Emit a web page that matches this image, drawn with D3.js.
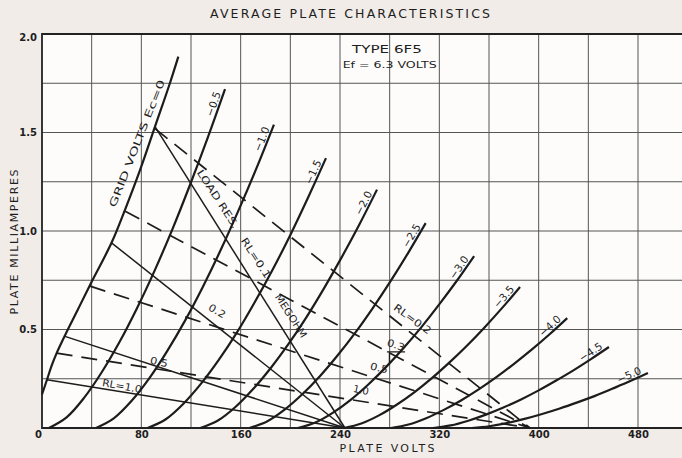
<!DOCTYPE html>
<html><head><meta charset="utf-8">
<script src="https://cdn.jsdelivr.net/npm/d3@7"></script>
<style>
html,body{margin:0;padding:0;background:#f1ece8;}
svg{display:block;}
text{font-family:"DejaVu Sans",sans-serif;fill:#1e1e1e;}
</style></head><body>
<svg id="c" width="682" height="458"></svg>
<script>
// ---- data ----
const gridBiasLabels = ["0","\u22120.5","\u22121.0","\u22121.5","\u22122.0","\u22122.5","\u22123.0","\u22123.5","\u22124.0","\u22124.5","\u22125.0"];
const curveVolts = [
  [0,4,8,11.8,18.5,28,38.7,56,67,79,91,103,109.8],
  [5.6,19.8,34,48.1,62.3,76.5,90.7,104.9,119,133.2,147.4],
  [43.5,57.8,72.2,86.5,100.8,115.2,129.5,143.8,158.1,172.5,186.8],
  [85,99.4,113.7,128.1,142.5,156.9,171.2,185.6,200,214.3,228.7],
  [127.5,141.7,156,170.2,184.4,198.7,212.9,227.1,241.3,255.6,269.8],
  [167,181.2,195.4,209.6,223.8,238,252.2,266.4,280.6,294.8,309],
  [206,220.2,234.4,248.6,262.8,277,291.2,305.4,319.6,333.8,348],
  [243,257.2,271.4,285.6,299.8,314,328.2,342.4,356.6,370.8,385],
  [281,295.2,309.4,323.6,337.8,352,366.2,380.4,394.6,408.8,423],
  [315,329.2,343.3,357.5,371.6,385.8,400,414.1,428.3,442.4,456.6],
  [346,360.2,374.4,388.6,402.8,417,431.2,445.4,459.6,473.8,488]
];
const curveMilliamps = [
  [0.17,0.245,0.32,0.38,0.47,0.59,0.726,0.94,1.11,1.31,1.53,1.75,1.885],
  [0,0.054,0.154,0.283,0.435,0.608,0.799,1.007,1.231,1.469,1.72],
  [0,0.049,0.138,0.253,0.390,0.545,0.716,0.902,1.102,1.315,1.54],
  [0,0.043,0.122,0.225,0.347,0.484,0.637,0.802,0.980,1.170,1.37],
  [0,0.038,0.108,0.199,0.306,0.428,0.562,0.709,0.866,1.033,1.21],
  [0,0.033,0.093,0.171,0.263,0.368,0.483,0.609,0.744,0.888,1.04],
  [0,0.028,0.078,0.143,0.221,0.309,0.406,0.511,0.625,0.745,0.873],
  [0,0.023,0.064,0.118,0.181,0.253,0.333,0.419,0.512,0.611,0.716],
  [0,0.018,0.050,0.092,0.141,0.197,0.259,0.327,0.399,0.476,0.558],
  [0,0.013,0.037,0.068,0.104,0.145,0.191,0.241,0.294,0.351,0.411],
  [0,0.009,0.025,0.046,0.071,0.099,0.130,0.163,0.200,0.238,0.279]
];
// load lines: megohms, start point on Ec=0 curve, supply voltage (end at 0 mA)
const loadRes      = [0.1, 0.2, 0.5, 1.0, 0.2, 0.3, 0.5, 1.0];
const loadStartV   = [91, 56, 18.5, 4, 91, 67, 38.7, 11.8];
const loadStartI   = [1.53, 0.94, 0.465, 0.245, 1.52, 1.10, 0.72, 0.38];
const loadSupplyV  = [244, 244, 244, 244, 393, 393, 393, 393];
const loadDashed   = [false,false,false,false,true,true,true,true];
const xTicks = [0,80,160,240,320,400,480];
const yTicks = [0.5,1.0,1.5,2.0];

// ---- chart ----
const W=682,H=458;
const x=d3.scaleLinear().domain([0,480]).range([42,638]);
const y=d3.scaleLinear().domain([0,2]).range([428,34]);
const svg=d3.select('#c');
const ink='#1c1c1c';

svg.append('rect').attr('x',x(0)).attr('y',y(2)).attr('width',W-x(0)).attr('height',y(0)-y(2)).attr('fill','#fdfcfb');

const grid=svg.append('g');
grid.selectAll('.vg').data(d3.range(40,530,40).filter(v=>x(v)<W)).join('line')
  .attr('x1',d=>x(d)).attr('x2',d=>x(d)).attr('y1',y(2)).attr('y2',y(0))
  .attr('stroke','#555').attr('stroke-width',1);
grid.selectAll('.hg').data(d3.range(0.25,2,0.25)).join('line')
  .attr('x1',x(0)).attr('x2',W).attr('y1',d=>y(d)).attr('y2',d=>y(d))
  .attr('stroke','#555').attr('stroke-width',1);

svg.append('path').attr('d',`M${W},${y(2)}H${x(0)}V${y(0)}H${W}`)
  .attr('fill','none').attr('stroke','#222').attr('stroke-width',1.8);

// axes
const xa=svg.append('g').attr('transform',`translate(0,${y(0)})`)
  .call(d3.axisBottom(x).tickValues(xTicks).tickSize(0).tickPadding(3).tickFormat(d3.format('d')));
xa.select('.domain').remove();
xa.selectAll('text').style('font-size','10px').style('font-weight','bold').attr('fill','#222')
  .attr('dx',d=>d===0?-4:0);
const ya=svg.append('g').attr('transform',`translate(${x(0)},0)`)
  .call(d3.axisLeft(y).tickValues(yTicks).tickSize(0).tickPadding(5).tickFormat(d3.format('.1f')));
ya.select('.domain').remove();
ya.selectAll('text').style('font-size','10px').style('font-weight','bold').attr('fill','#222')
  .attr('dy',d=>d===2?'0.6em':'0.32em');

// load lines
const lg=svg.append('g');
loadRes.forEach((r,i)=>{
  lg.append('line')
    .attr('x1',x(loadStartV[i])).attr('y1',y(loadStartI[i]))
    .attr('x2',x(loadSupplyV[i])).attr('y2',y(0))
    .attr('stroke',ink).attr('stroke-width',loadDashed[i]?1.7:1.5)
    .attr('stroke-dasharray',loadDashed[i]?'16,9':null);
});

// plate curves
const line=d3.line().x(d=>x(d[0])).y(d=>y(d[1])).curve(d3.curveCatmullRom.alpha(0.5));
const cg=svg.append('g');
curveVolts.forEach((vs,i)=>{
  const pts=vs.map((v,j)=>[v,curveMilliamps[i][j]]);
  cg.append('path').attr('d',line(pts)).attr('fill','none').attr('stroke',ink).attr('stroke-width',2.2);
  if(i>0){
    const n=pts.length;
    const p1=[x(pts[n-1][0]),y(pts[n-1][1])], p0=[x(pts[n-2][0]),y(pts[n-2][1])];
    const dx=p1[0]-p0[0], dy=p1[1]-p0[1], L=Math.hypot(dx,dy);
    const tx=dx/L, ty=dy/L, nx=ty, ny=-tx;
    const cx=p1[0]-18*tx+6*nx, cy=p1[1]-18*ty+6*ny;
    const ang=Math.atan2(dy,dx)*180/Math.PI;
    svg.append('text').attr('transform',`translate(${cx},${cy}) rotate(${ang})`)
      .attr('text-anchor','middle').attr('dy','0.35em').style('font-size','10.5px')
      .text(gridBiasLabels[i]);
  }
});

// annotations
function note(t,v,ma,rot,size,len){
  const el=svg.append('text').attr('transform',`translate(${x(v)},${y(ma)}) rotate(${rot})`)
    .attr('text-anchor','middle').attr('dy','0.35em').style('font-size',(size||10)+'px').text(t);
  if(len) el.attr('textLength',len).attr('lengthAdjust','spacingAndGlyphs');
  return el;
}
note('GRID VOLTS  E\u1D04=0',76.5,1.444,-68.5,10,136);
note('LOAD RES.',141.7,1.162,57,10,68);
note('RL=0.1',172.3,0.863,57,10,46);
note('MEGOHM',200.5,0.569,57,10,50);
note('RL=0.2',298.4,0.553,36,10,44);
note('0.3',285,0.421,18,10,18);
note('0.5',271.4,0.305,14,10,18);
note('1.0',256.9,0.193,12,10,16);
note('0.2',141,0.594,30,10,18);
note('0.5',94.2,0.335,12,10,18);
note('RL=1.0',64.4,0.213,10,10,40);
note('TYPE 6F5',277.8,1.924,0,10.5,70);
note('Ef = 6.3 VOLTS',280,1.843,0,9.5,94);
// underline mark under "0.3"
svg.append('path')
  .attr('d',`M${x(277.8)},${y(0.386)}H${x(292.4)}M${x(279.8)},${y(0.386)}V${y(0.33)}`)
  .attr('stroke',ink).attr('stroke-width',1.3).attr('fill','none');

// titles
svg.append('text').attr('x',350).attr('y',18).attr('text-anchor','middle')
  .style('font-size','12.5px').attr('textLength',280).attr('lengthAdjust','spacing')
  .text('AVERAGE PLATE CHARACTERISTICS');
svg.append('text').attr('x',387).attr('y',452).attr('text-anchor','middle')
  .style('font-size','11px').attr('textLength',95).attr('lengthAdjust','spacing')
  .text('PLATE VOLTS');
svg.append('text').attr('transform','translate(18,242) rotate(-90)').attr('text-anchor','middle')
  .style('font-size','11px').attr('textLength',145).attr('lengthAdjust','spacing')
  .text('PLATE MILLIAMPERES');
</script>
</body></html>
